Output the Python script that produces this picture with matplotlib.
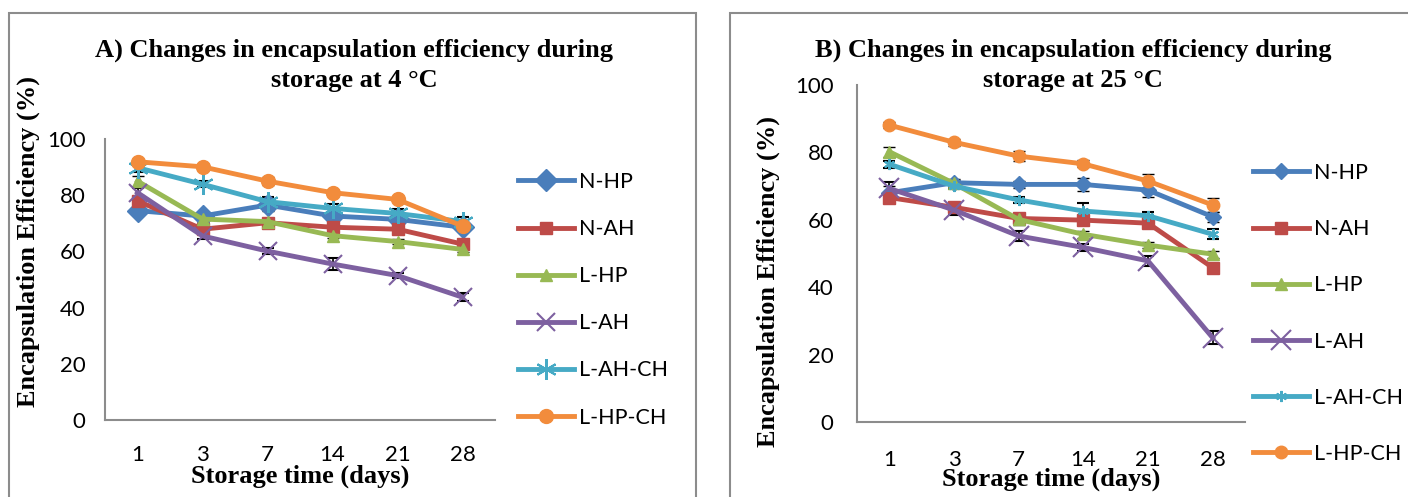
import matplotlib
matplotlib.use("Agg")
import matplotlib.pyplot as plt
from matplotlib.patches import Rectangle

days = ["1", "3", "7", "14", "21", "28"]
series = ["N-HP", "N-AH", "L-HP", "L-AH", "L-AH-CH", "L-HP-CH"]

# panel A: 4 °C
a_vals = {
    "N-HP":    [74.5, 72.6, 76.5, 72.6, 71.4, 68.6],
    "N-AH":    [78.0, 67.9, 70.2, 68.6, 67.9, 62.6],
    "L-HP":    [85.0, 71.5, 70.6, 65.6, 63.5, 60.7],
    "L-AH":    [80.9, 65.5, 60.1, 55.5, 51.4, 43.7],
    "L-AH-CH": [89.8, 83.9, 77.7, 75.3, 73.5, 70.6],
    "L-HP-CH": [91.9, 90.1, 85.0, 80.9, 78.5, 69.0],
}
a_err = {
    "N-HP":    [1.5, 1.5, 2.0, 1.5, 1.5, 1.5],
    "N-AH":    [1.5, 1.0, 1.5, 1.5, 1.0, 1.5],
    "L-HP":    [2.0, 1.0, 1.0, 1.0, 1.0, 1.0],
    "L-AH":    [1.5, 1.0, 1.0, 2.0, 1.0, 1.5],
    "L-AH-CH": [1.5, 1.0, 1.5, 1.5, 1.5, 1.5],
    "L-HP-CH": [1.0, 1.0, 1.5, 1.0, 1.0, 1.0],
}

# panel B: 25 °C
b_vals = {
    "N-HP":    [68.0, 71.0, 70.5, 70.5, 68.8, 60.9],
    "N-AH":    [66.6, 63.7, 60.4, 59.9, 59.0, 45.8],
    "L-HP":    [80.2, 70.8, 60.1, 55.7, 52.5, 49.8],
    "L-AH":    [69.3, 62.9, 55.2, 51.8, 47.8, 25.0],
    "L-AH-CH": [76.5, 70.0, 65.9, 62.6, 61.2, 55.7],
    "L-HP-CH": [88.1, 83.0, 78.9, 76.6, 71.5, 64.4],
}
b_err = {
    "N-HP":    [2.0, 1.0, 1.0, 2.0, 2.0, 1.5],
    "N-AH":    [1.5, 1.0, 1.5, 1.5, 1.5, 1.5],
    "L-HP":    [1.5, 1.0, 1.5, 1.0, 1.0, 1.0],
    "L-AH":    [2.0, 1.5, 1.5, 1.0, 1.5, 2.0],
    "L-AH-CH": [1.0, 1.0, 1.0, 2.5, 1.0, 1.5],
    "L-HP-CH": [1.0, 1.0, 1.5, 1.0, 2.0, 2.0],
}

colors = {"N-HP": "#4A7EBB", "N-AH": "#BE4B48", "L-HP": "#98B954",
          "L-AH": "#7D60A0", "L-AH-CH": "#46AAC5", "L-HP-CH": "#F28C3C"}
markers = {"N-HP": "D", "N-AH": "s", "L-HP": "^", "L-AH": "x",
           "L-AH-CH": (6, 2, 0), "L-HP-CH": "o"}
msize_a = {"N-HP": 11, "N-AH": 9, "L-HP": 9, "L-AH": 13, "L-AH-CH": 15, "L-HP-CH": 10}
msize_b = {"N-HP": 8, "N-AH": 9, "L-HP": 9, "L-AH": 14, "L-AH-CH": 8, "L-HP-CH": 9}

W, H = 1408, 497
fig = plt.figure(figsize=(W / 100, H / 100), dpi=100)
serif = "Liberation Serif"
sans = "Lato"
grey = "#8C8C8C"
big = 19


def px(x0, y0, x1, y1):
    # pixel box (top-left origin) -> figure fraction [l, b, w, h]
    return [x0 / W, 1 - y1 / H, (x1 - x0) / W, (y1 - y0) / H]


# chart frames
fig.patches.append(Rectangle((9 / W, -0.05), (696 - 9) / W, 1 - 13 / H + 0.05,
                             transform=fig.transFigure, fill=False, ec=grey, lw=1.5))
fig.patches.append(Rectangle((730 / W, -0.05), 0.5, 1 - 13 / H + 0.05,
                             transform=fig.transFigure, fill=False, ec=grey, lw=1.5))


def draw(ax, vals, errs, msize, ylab_xy, xlab_y, xpad, ypad, leg_anchor, leg_space):
    x = range(len(days))
    handles = []
    for s in series:
        cont = ax.errorbar(x, vals[s], yerr=errs[s], color=colors[s], lw=3.5,
                           marker=markers[s], ms=msize[s],
                           mew=1.5 if markers[s] in ("x", (6, 2, 0)) else 1,
                           ecolor="black", elinewidth=1.2, capsize=4, capthick=1.2,
                           zorder=3)
        handles.append(cont[0])
    ax.set_xlim(-0.5, len(days) - 0.5)
    ax.set_ylim(0, 100)
    ax.set_xticks(list(x))
    ax.set_xticklabels(days)
    ax.set_yticks([0, 20, 40, 60, 80, 100])
    for sp in ["top", "right"]:
        ax.spines[sp].set_visible(False)
    for sp in ["left", "bottom"]:
        ax.spines[sp].set_color(grey)
        ax.spines[sp].set_linewidth(1.5)
    ax.tick_params(axis="x", length=0, pad=xpad, labelsize=16)
    ax.tick_params(axis="y", length=0, pad=ypad, labelsize=16)
    for lab in ax.get_xticklabels() + ax.get_yticklabels():
        lab.set_fontfamily(sans)
    ax.set_ylabel("Encapsulation Efficiency (%)", fontfamily=serif,
                  fontweight="bold", fontsize=big)
    ax.yaxis.set_label_coords(*ylab_xy)
    ax.set_xlabel("Storage time (days)", fontfamily=serif,
                  fontweight="bold", fontsize=big)
    ax.xaxis.set_label_coords(0.5, xlab_y)
    ax.legend(handles, series, loc="upper left", bbox_to_anchor=leg_anchor,
              bbox_transform=fig.transFigure, frameon=False,
              prop={"family": sans, "size": 15.5}, handlelength=2.6,
              handletextpad=0.25, labelspacing=leg_space, borderpad=0,
              borderaxespad=0, numpoints=1)
    return ax


def title(xc, lines):
    for yc, t in zip((50, 80), lines):
        fig.text(xc / W, 1 - yc / H, t, ha="center", va="center",
                 fontfamily=serif, fontweight="bold", fontsize=big)


axA = fig.add_axes(px(105, 139, 495, 420))
draw(axA, a_vals, a_err, msize_a, (-0.167, 0.637), -0.160, 18, 14,
     (518 / W, 1 - 172 / H), 1.26)
title(354, ["A) Changes in encapsulation efficiency during", "storage at 4 °C"])

axB = fig.add_axes(px(857, 85, 1245, 422))
draw(axB, b_vals, b_err, msize_b, (-0.198, 0.418), -0.135, 20, 17,
     (1253 / W, 1 - 163 / H), 1.68)
title(1073, ["B) Changes in encapsulation efficiency during", "storage at 25 °C"])

fig.savefig("out.png", dpi=100)
